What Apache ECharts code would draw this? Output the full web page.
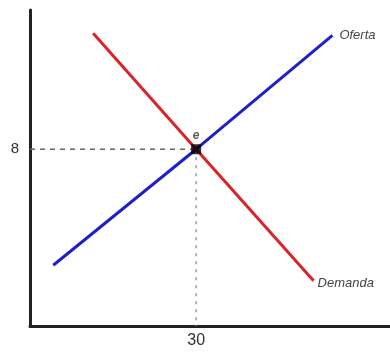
<!DOCTYPE html>
<html>
<head>
<meta charset="utf-8">
<script src="https://cdn.jsdelivr.net/npm/echarts@6/dist/echarts.min.js"></script>
<style>
  html, body { margin: 0; padding: 0; background: #fff; }
  #chart { width: 390px; height: 358px; }
</style>
</head>
<body>
<div id="chart"></div>
<script>
// datos del gráfico
var oferta = [[4.2, 2.75], [30, 8], [54.6, 13.15]];
var demanda = [[11.4, 13.25], [30, 8], [51.2, 2.05]];
var equilibrio = [[30, 8]];
var guiaH = [[0, 8], [30, 8]];
var guiaV = [[30, 8], [30, 0]];
var xTicks = [30];
var yTicks = [8];

var myChart = echarts.init(document.getElementById('chart'));

option = {
    backgroundColor: '#fff',
    animation: false,
    grid: { left: 30, right: 0, top: 10, bottom: 32 },
    xAxis: {
        type: 'value',
        min: 0,
        max: 65,
        splitLine: { show: false },
        axisTick: { show: false },
        axisLine: { lineStyle: { color: '#222', width: 3 } },
        axisLabel: {
            customValues: xTicks,
            color: '#333',
            fontSize: 16,
            fontFamily: 'Liberation Sans',
            margin: 7
        }
    },
    yAxis: {
        type: 'value',
        min: 0,
        max: 14.3,
        splitLine: { show: false },
        axisTick: { show: false },
        axisLine: { show: true, lineStyle: { color: '#222', width: 3 } },
        axisLabel: {
            customValues: yTicks,
            color: '#333',
            fontSize: 15,
            fontFamily: 'Liberation Sans',
            margin: 11
        }
    },
    series: [
        {
            type: 'line',
            data: guiaH,
            symbol: 'none',
            silent: true,
            lineStyle: { color: '#666', width: 1.5, type: [5, 5] },
            z: 1
        },
        {
            type: 'line',
            data: guiaV,
            symbol: 'none',
            silent: true,
            lineStyle: { color: '#999', width: 1.5, type: [3, 5] },
            z: 1
        },
        {
            name: 'Oferta',
            type: 'line',
            data: oferta,
            symbol: 'none',
            lineStyle: { color: '#2020c8', width: 3 },
            endLabel: {
                show: true,
                formatter: 'Oferta',
                color: '#444',
                fontSize: 13,
                fontStyle: 'italic',
                fontFamily: 'Liberation Sans',
                distance: 7
            },
            z: 2
        },
        {
            name: 'Demanda',
            type: 'line',
            data: demanda,
            symbol: 'none',
            lineStyle: { color: '#d8242a', width: 3 },
            endLabel: {
                show: true,
                formatter: 'Demanda',
                color: '#444',
                fontSize: 13,
                fontStyle: 'italic',
                fontFamily: 'Liberation Sans',
                distance: 4,
                offset: [0, 3]
            },
            z: 2
        },
        {
            type: 'scatter',
            data: equilibrio,
            symbol: 'rect',
            symbolSize: 10,
            itemStyle: { color: '#000' },
            label: {
                show: true,
                position: 'top',
                formatter: 'e',
                color: '#333',
                fontSize: 12,
                fontStyle: 'italic',
                fontWeight: 'bold',
                distance: 3
            },
            z: 3
        }
    ]
};

myChart.setOption(option);
</script>
</body>
</html>
